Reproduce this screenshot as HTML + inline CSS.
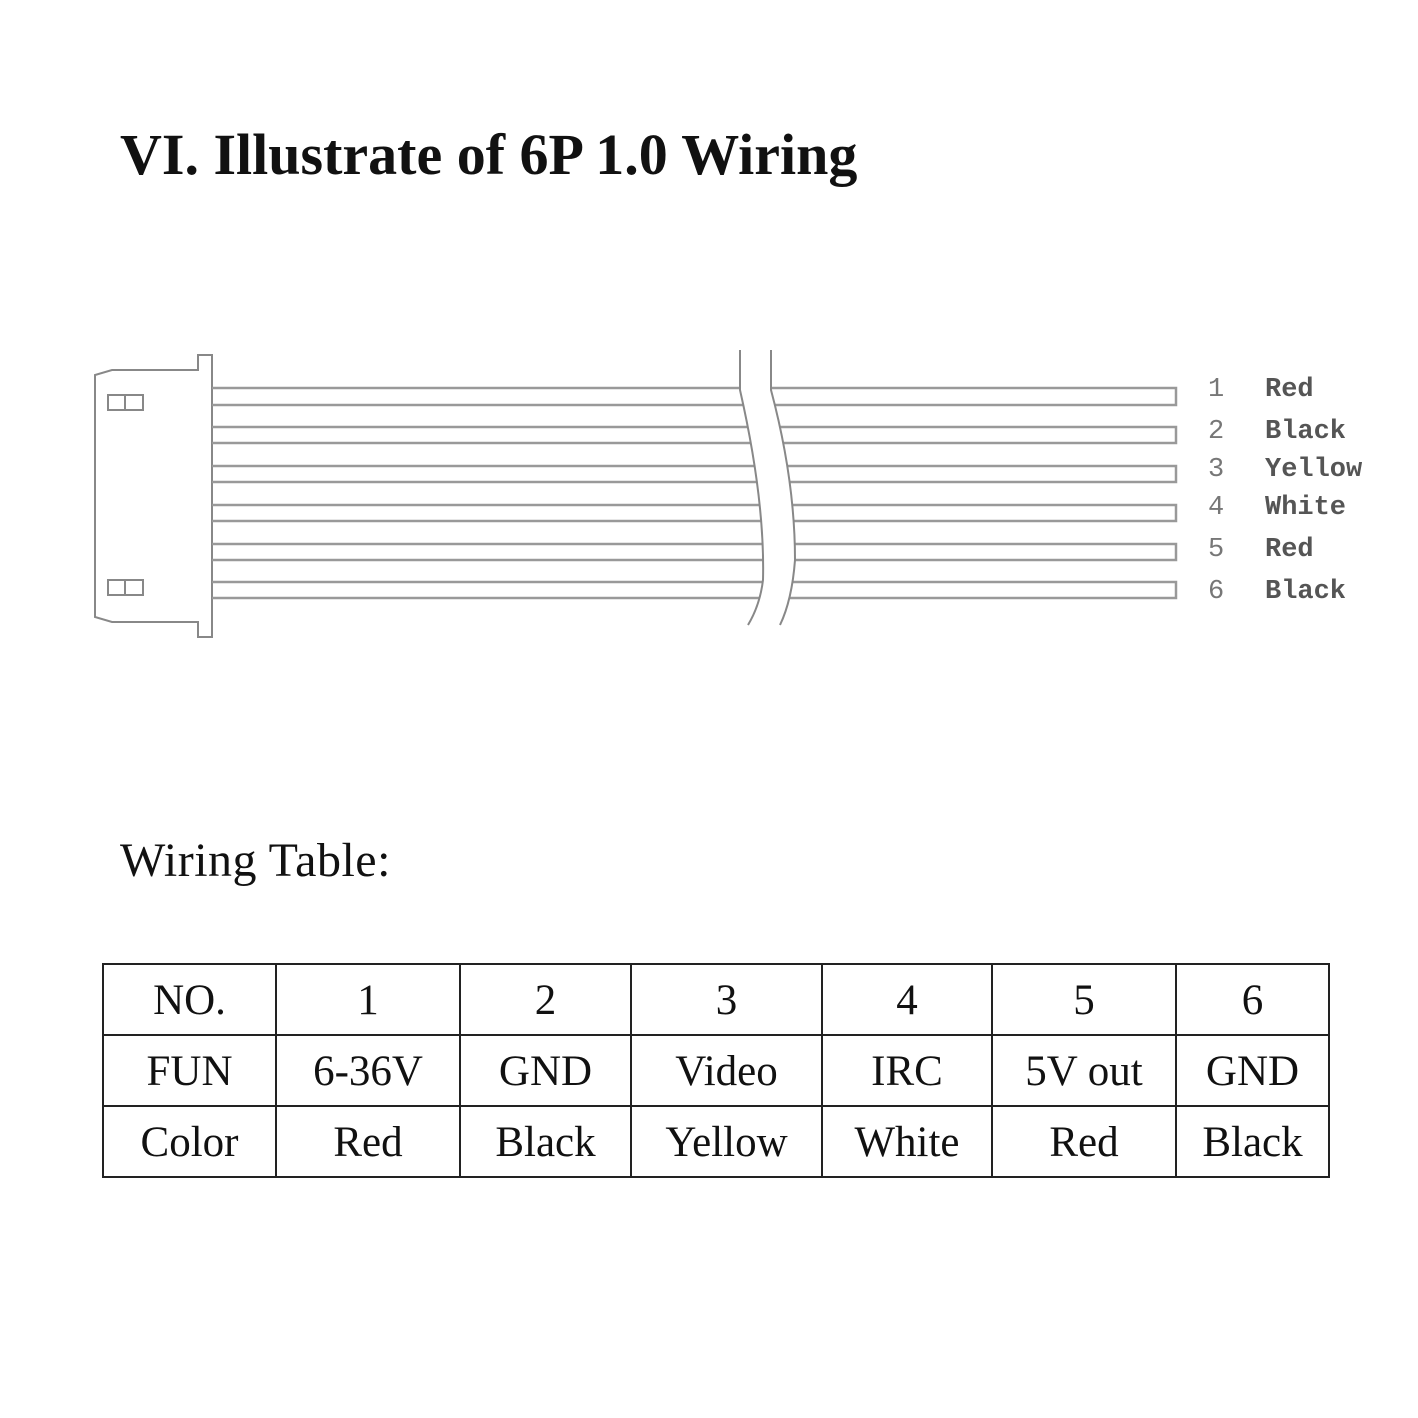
<!DOCTYPE html>
<html><head><style>
body{margin:0;width:1418px;height:1418px;background:#fff;position:relative;overflow:hidden;font-family:"Liberation Serif",serif}
.t{position:absolute;left:120px;top:121px;font-size:58px;font-weight:bold;color:#111;white-space:nowrap;letter-spacing:0px}
.w{position:absolute;left:120px;top:833px;font-size:48px;color:#111;letter-spacing:0.5px}
table{position:absolute;left:102px;top:963px;border-collapse:collapse;font-size:43px;color:#111}
td{border:2px solid #222;height:67px;text-align:center;padding:2px 0 0 0}
</style></head><body>
<div class="t">VI. Illustrate of 6P 1.0 Wiring</div>
<svg width="1418" height="1418" style="position:absolute;left:0;top:0">
<g fill="none" stroke="#888" stroke-width="2">
<path d="M212 355 L198 355 L198 370 L112 370 L95 375 L95 617 L112 622 L198 622 L198 637 L212 637 Z" fill="#fff"/>
<rect x="108" y="395" width="35" height="15"/><line x1="125" y1="395" x2="125" y2="410"/>
<rect x="108" y="580" width="35" height="15"/><line x1="125" y1="580" x2="125" y2="595"/>
<g stroke="#999" stroke-width="2.5">
<path d="M212 388H1176V405H212"/>
<path d="M212 427H1176V443H212"/>
<path d="M212 466H1176V482H212"/>
<path d="M212 505H1176V521H212"/>
<path d="M212 544H1176V560H212"/>
<path d="M212 582H1176V598H212"/>
</g>
<path d="M740 350 L740 390 Q765 500 763 580 Q760 605 748 625 L780 625 Q792 600 795 560 Q795 480 771 390 L771 350 Z" fill="#fff" stroke="none"/>
<path d="M740 350 L740 390 Q765 500 763 580 Q760 605 748 625"/>
<path d="M771 350 L771 390 Q795 480 795 560 Q792 600 780 625"/>
</g>
<g font-family="Liberation Mono,monospace" font-size="27" fill="#777">
<text x="1208" y="396">1</text><text x="1265" y="396" fill="#555" font-weight="bold">Red</text>
<text x="1208" y="438">2</text><text x="1265" y="438" fill="#555" font-weight="bold">Black</text>
<text x="1208" y="476">3</text><text x="1265" y="476" fill="#555" font-weight="bold">Yellow</text>
<text x="1208" y="514">4</text><text x="1265" y="514" fill="#555" font-weight="bold">White</text>
<text x="1208" y="556">5</text><text x="1265" y="556" fill="#555" font-weight="bold">Red</text>
<text x="1208" y="598">6</text><text x="1265" y="598" fill="#555" font-weight="bold">Black</text>
</g>
</svg>
<div class="w">Wiring Table:</div>
<table>
<tr><td style="width:171px">NO.</td><td style="width:182px">1</td><td style="width:169px">2</td><td style="width:189px">3</td><td style="width:168px">4</td><td style="width:182px">5</td><td style="width:151px">6</td></tr>
<tr><td>FUN</td><td>6-36V</td><td>GND</td><td>Video</td><td>IRC</td><td>5V out</td><td>GND</td></tr>
<tr><td>Color</td><td>Red</td><td>Black</td><td>Yellow</td><td>White</td><td>Red</td><td>Black</td></tr>
</table>
</body></html>
